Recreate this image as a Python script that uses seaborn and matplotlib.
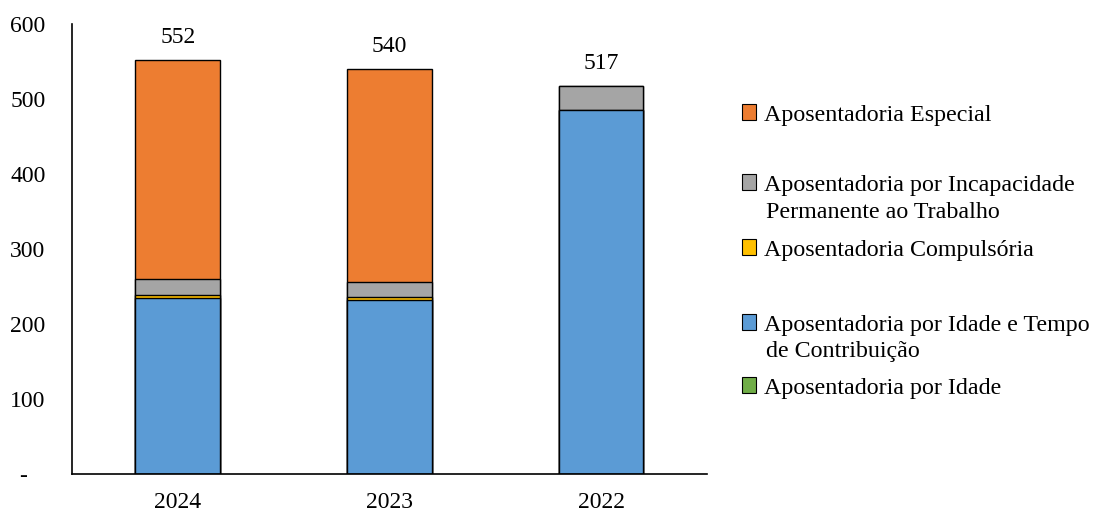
import numpy as np
import pandas as pd
import matplotlib
matplotlib.use("Agg")
import matplotlib.pyplot as plt
from matplotlib.patches import Patch
import seaborn as sns

# values
years = ["2024", "2023", "2022"]
idade = [0, 0, 0]
idade_tempo = [235, 232, 486]
compulsoria = [4, 4, 0]
incapacidade = [21, 20, 31]
especial = [292, 284, 0]

series = [
    ("Aposentadoria por Idade", idade, "#70AD47"),
    ("Aposentadoria por Idade e Tempo\nde Contribuição", idade_tempo, "#5B9BD5"),
    ("Aposentadoria Compulsória", compulsoria, "#FFC000"),
    ("Aposentadoria por Incapacidade\nPermanente ao Trabalho", incapacidade, "#A5A5A5"),
    ("Aposentadoria Especial", especial, "#ED7D31"),
]

sns.set_style("white")
plt.rcParams["font.family"] = ["Liberation Serif", "DejaVu Serif"]
plt.rcParams["text.color"] = "black"
plt.rcParams["xtick.color"] = "black"
plt.rcParams["ytick.color"] = "black"
fs = 17
lfs = 17.3

fig = plt.figure(figsize=(10.94, 5.11), dpi=100)
ax = fig.add_axes([0.0658, 0.0724, 0.5804, 0.8806])

# cumulative stacks, drawn from the top layer down
cum = np.cumsum([s[1] for s in series], axis=0)
for i in range(len(series) - 1, -1, -1):
    df = pd.DataFrame({"ano": years, "valor": cum[i]})
    sns.barplot(data=df, x="ano", y="valor", order=years, color=series[i][2],
                width=0.4, edgecolor="black", linewidth=1.0, saturation=1,
                ax=ax, zorder=2)

ax.bar_label(ax.containers[0], labels=[str(int(v)) for v in cum[-1]],
             padding=9, fontsize=fs, color="black")

ax.set_ylim(0, 600)
ax.set_xlim(-0.5, 2.5)
ax.set_yticks([0, 100, 200, 300, 400, 500, 600])
ax.set_yticklabels(["-   ", "100", "200", "300", "400", "500", "600"])
ax.set_xlabel("")
ax.set_ylabel("")
ax.tick_params(axis="y", length=0, pad=19, labelsize=fs)
ax.tick_params(axis="x", length=0, pad=13, labelsize=fs)
sns.despine(ax=ax)
for sp in ["left", "bottom"]:
    ax.spines[sp].set_linewidth(1.2)
    ax.spines[sp].set_color("black")

# legend entries, top to bottom, box aligned with first line
legend_y = [115, 185, 250, 325, 388]
for (label, _, color), y in zip(series[::-1], legend_y):
    lines = label.split("\n")
    fig.legend([Patch(facecolor=color, edgecolor="black", linewidth=0.8)],
               [lines[0]], loc="center left",
               bbox_to_anchor=(742 / 1094, 1 - y / 511),
               frameon=False, fontsize=lfs, handlelength=0.6, handleheight=0.6,
               handletextpad=0.3, borderpad=0, borderaxespad=0,
               labelcolor="black")
    if len(lines) > 1:
        fig.text(766 / 1094, 1 - (y + 27) / 511, lines[1], fontsize=lfs,
                 va="center", ha="left", color="black")

fig.savefig("out.png", dpi=100)
